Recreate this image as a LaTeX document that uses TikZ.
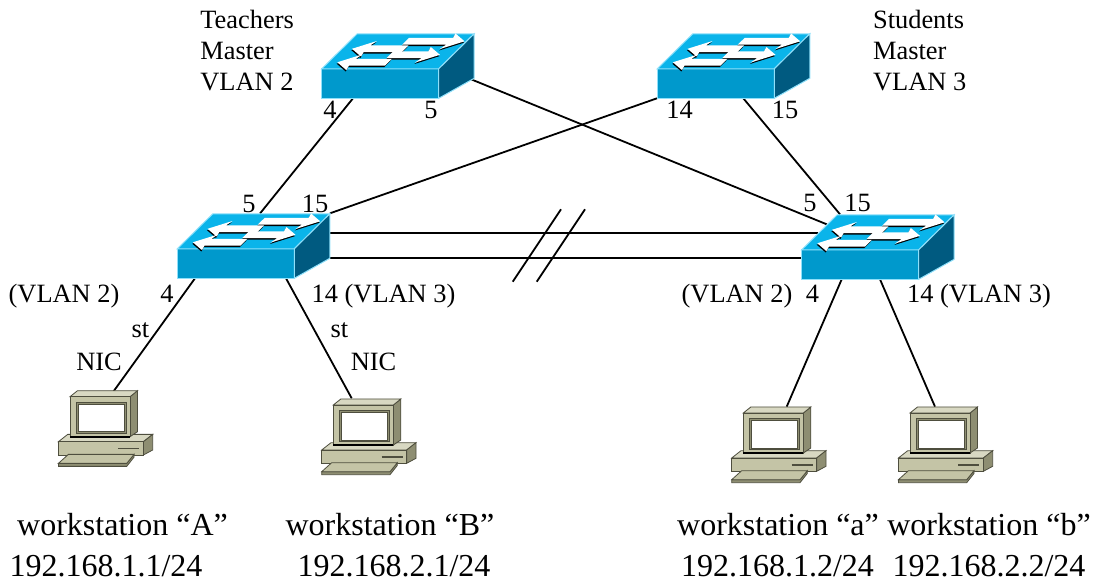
\documentclass[tikz,border=0pt]{standalone}
\usepackage{fontspec}
\setmainfont{Liberation Serif}
\usetikzlibrary{calc,backgrounds}
\definecolor{swtop}{HTML}{0AB4EA}
\definecolor{swfront}{HTML}{0099CC}
\definecolor{swside}{HTML}{005A80}
\definecolor{swedge}{HTML}{8FE0FA}
\definecolor{wsfront}{HTML}{C4C4A6}
\definecolor{wstop}{HTML}{D8D8C2}
\definecolor{wsside}{HTML}{8E8E72}
\definecolor{wsedge}{HTML}{4E4E3E}

\tikzset{
  link/.style={draw=black, line width=0.9pt},
  lbl/.style={font=\fontsize{13.2}{15.4}\selectfont, inner sep=0pt},
  wslbl/.style={font=\fontsize{16}{19}\selectfont, inner sep=0pt},
  swface/.style={draw=swedge, line width=0.5pt},
  wsbody/.style={draw=wsedge, line width=0.4pt},
  % workgroup switch, origin at the lower left front corner
  pics/switch/.style={code={
    \filldraw[swface, fill=swfront] (0,0) rectangle (117,-29.5);
    \filldraw[swface, fill=swtop] (0,-29.5) -- (117,-29.5) -- (152.5,-64.5) -- (35.5,-64.5) -- cycle;
    \filldraw[swface, fill=swside] (117,0) -- (117,-29.5) -- (152.5,-64.5) -- (152.5,-20) -- cycle;
    \begin{scope}[shift={(0,-29.5)}, x={(0.5pt,0pt)}, y={(0.507pt,0.5pt)}]
      \foreach \a/\b/\w in {56/115/27.5, 63/10/20, 54/104/14, 60/9/6.5} {
        \pgfmathsetmacro\dr{sign(\b-\a)}
        \fill[black, shift={(0.8,-1.4)}] (\a,{\w-3.4}) -- ({\b-\dr*15},{\w-3.4}) -- ({\b-\dr*17},{\w-7.8}) -- (\b,\w)
          -- ({\b-\dr*17},{\w+7.8}) -- ({\b-\dr*15},{\w+3.4}) -- (\a,{\w+3.4}) -- cycle;
        \fill[white] (\a,{\w-3.4}) -- ({\b-\dr*15},{\w-3.4}) -- ({\b-\dr*17},{\w-7.8}) -- (\b,\w)
          -- ({\b-\dr*17},{\w+7.8}) -- ({\b-\dr*15},{\w+3.4}) -- (\a,{\w+3.4}) -- cycle;
      }
    \end{scope}
  }},
  % desktop pc, origin at the upper left corner of the screen housing
  pics/workstation/.style={code={
    \filldraw[wsbody, fill=wstop] (-11.6,45) -- (-2.3,37.7) -- (82.7,37.7) -- (73.4,45) -- cycle;
    \filldraw[wsbody, fill=wsside] (73.4,45) -- (82.7,37.7) -- (82.7,53.3) -- (73.4,58.3) -- cycle;
    \filldraw[wsbody, fill=wsfront] (-11.6,45) rectangle (73.4,58.3);
    \draw[wsedge, line width=0.8pt] (48.4,52) -- (69.4,52);
    % keyboard
    \filldraw[wsbody, fill=wsside] (-11.6,66.7) -- (56.7,66.7) -- (64,57.7) -- (64,60.5) -- (56.7,69.7) -- (-11.6,69.7) -- cycle;
    \filldraw[wsbody, fill=wsfront] (-1.6,57.7) -- (64,57.7) -- (56.7,66.7) -- (-11.6,66.7) -- cycle;
    % monitor
    \filldraw[wsbody, fill=wsside] (60,0) -- (67.5,-6) -- (67.5,35) -- (60,40) -- cycle;
    \filldraw[wsbody, fill=wstop] (0,0) -- (7.5,-6) -- (67.5,-6) -- (60,0) -- cycle;
    \filldraw[wsbody, fill=wsfront] (0,0) rectangle (60,40);
    \filldraw[wsbody, fill=wsside] (6,5.7) rectangle (56,36.7);
    \filldraw[wsbody, fill=white] (8.4,7.7) rectangle (54,35);
    \draw[black, line width=0.9pt] (0,40) -- (60,40);
  }}
}

\begin{document}
\begin{tikzpicture}[x=0.5pt, y=-0.5pt]
  \useasboundingbox (0,0) rectangle (1104,582);

  % switches
  \pic at (321.7,98.3) {switch};
  \pic at (657.3,98.3) {switch};
  \pic at (177.3,278.3) {switch};
  \pic at (801.7,279.3) {switch};

  % workstations
  \pic at (70,396.7) {workstation};
  \pic at (333.3,405) {workstation};
  \pic at (743.3,413) {workstation};
  \pic at (910,413) {workstation};

  % ports
  \coordinate (tch4)  at (353,98.3);
  \coordinate (tch5)  at (463,76);
  \coordinate (stu14) at (657,98.3);
  \coordinate (stu15) at (743.3,98.3);
  \coordinate (lsw5)  at (260,213.5);
  \coordinate (lsw15) at (330,213.3);
  \coordinate (lswup) at (330,233.3);
  \coordinate (lswdn) at (315,257.7);
  \coordinate (lsw4)  at (195,278.3);
  \coordinate (lsw14) at (286,278.3);
  \coordinate (rsw5)  at (826.7,224.3);
  \coordinate (rsw15) at (840,214.3);
  \coordinate (rswup) at (818.3,233.3);
  \coordinate (rswdn) at (801.7,257.7);
  \coordinate (rsw4)  at (841.7,279.3);
  \coordinate (rsw14) at (880,279.3);
  \coordinate (nicA) at (113.3,391.7);
  \coordinate (nicB) at (351.7,398.3);
  \coordinate (nica) at (786.7,406.7);
  \coordinate (nicb) at (935,406.7);

  \begin{scope}[on background layer]
    \draw[link] (tch4) -- (lsw5);
    \draw[link] (tch5) -- (rsw5);
    \draw[link] (stu14) -- (lsw15);
    \draw[link] (stu15) -- (rsw15);
    \draw[link] (lswup) -- (rswup);
    \draw[link] (lswdn) -- (rswdn);
    \draw[link] (lsw4) -- (nicA);
    \draw[link] (lsw14) -- (nicB);
    \draw[link] (rsw4) -- (nica);
    \draw[link] (rsw14) -- (nicb);
  \end{scope}

  % broken trunk mark
  \draw[line width=0.9pt] (512.7,281.7) -- (561,209.3);
  \draw[line width=0.9pt] (536.7,281.7) -- (585,209.3);

  % master labels
  \node[lbl, align=left, anchor=north west] (tchname) at (200,10) {Teachers\\Master\\VLAN 2};
  \node[lbl, align=left, anchor=north west] (stuname) at (872.7,10) {Students\\Master\\VLAN 3};

  % port numbers
  \node[lbl, anchor=base] (tchp4)  at (330,118.5) {4};
  \node[lbl, anchor=base] (tchp5)  at (431,118.5) {5};
  \node[lbl, anchor=base] (stup14) at (679.5,118.5) {14};
  \node[lbl, anchor=base] (stup15) at (785,118.5) {15};
  \node[lbl, anchor=base] (lswp5)  at (249,212.5) {5};
  \node[lbl, anchor=base] (lswp15) at (315,212.5) {15};
  \node[lbl, anchor=base] (rswp5)  at (810,211.7) {5};
  \node[lbl, anchor=base] (rswp15) at (857.5,211.7) {15};
  \node[lbl, anchor=base] (lswv2)  at (64,302.5) {(VLAN 2)};
  \node[lbl, anchor=base] (lswp4)  at (167,302.5) {4};
  \node[lbl, anchor=base] (lswv3)  at (383.5,302.5) {14 (VLAN 3)};
  \node[lbl, anchor=base] (rswv2)  at (737,303) {(VLAN 2)};
  \node[lbl, anchor=base] (rswp4)  at (812.5,303) {4};
  \node[lbl, anchor=base] (rswv3)  at (979,303) {14 (VLAN 3)};

  % cable ends
  \node[lbl, anchor=base] (stA)  at (140.5,338) {st};
  \node[lbl, anchor=base] (nicAl) at (99,371) {NIC};
  \node[lbl, anchor=base] (stB)  at (339.5,338) {st};
  \node[lbl, anchor=base] (nicBl) at (373.5,371) {NIC};

  % workstation names and addresses
  \node[wslbl, anchor=base] (wsAname) at (122.5,536) {workstation “A”};
  \node[wslbl, anchor=base] (wsAip)   at (106,576.5) {192.168.1.1/24};
  \node[wslbl, anchor=base] (wsBname) at (390,536) {workstation “B”};
  \node[wslbl, anchor=base] (wsBip)   at (394,576.5) {192.168.2.1/24};
  \node[wslbl, anchor=base] (wsaname) at (778,536) {workstation “a”};
  \node[wslbl, anchor=base] (wsaip)   at (777.5,576.5) {192.168.1.2/24};
  \node[wslbl, anchor=base] (wsbname) at (989,536) {workstation “b”};
  \node[wslbl, anchor=base] (wsbip)   at (989,576.5) {192.168.2.2/24};
\end{tikzpicture}
\end{document}
